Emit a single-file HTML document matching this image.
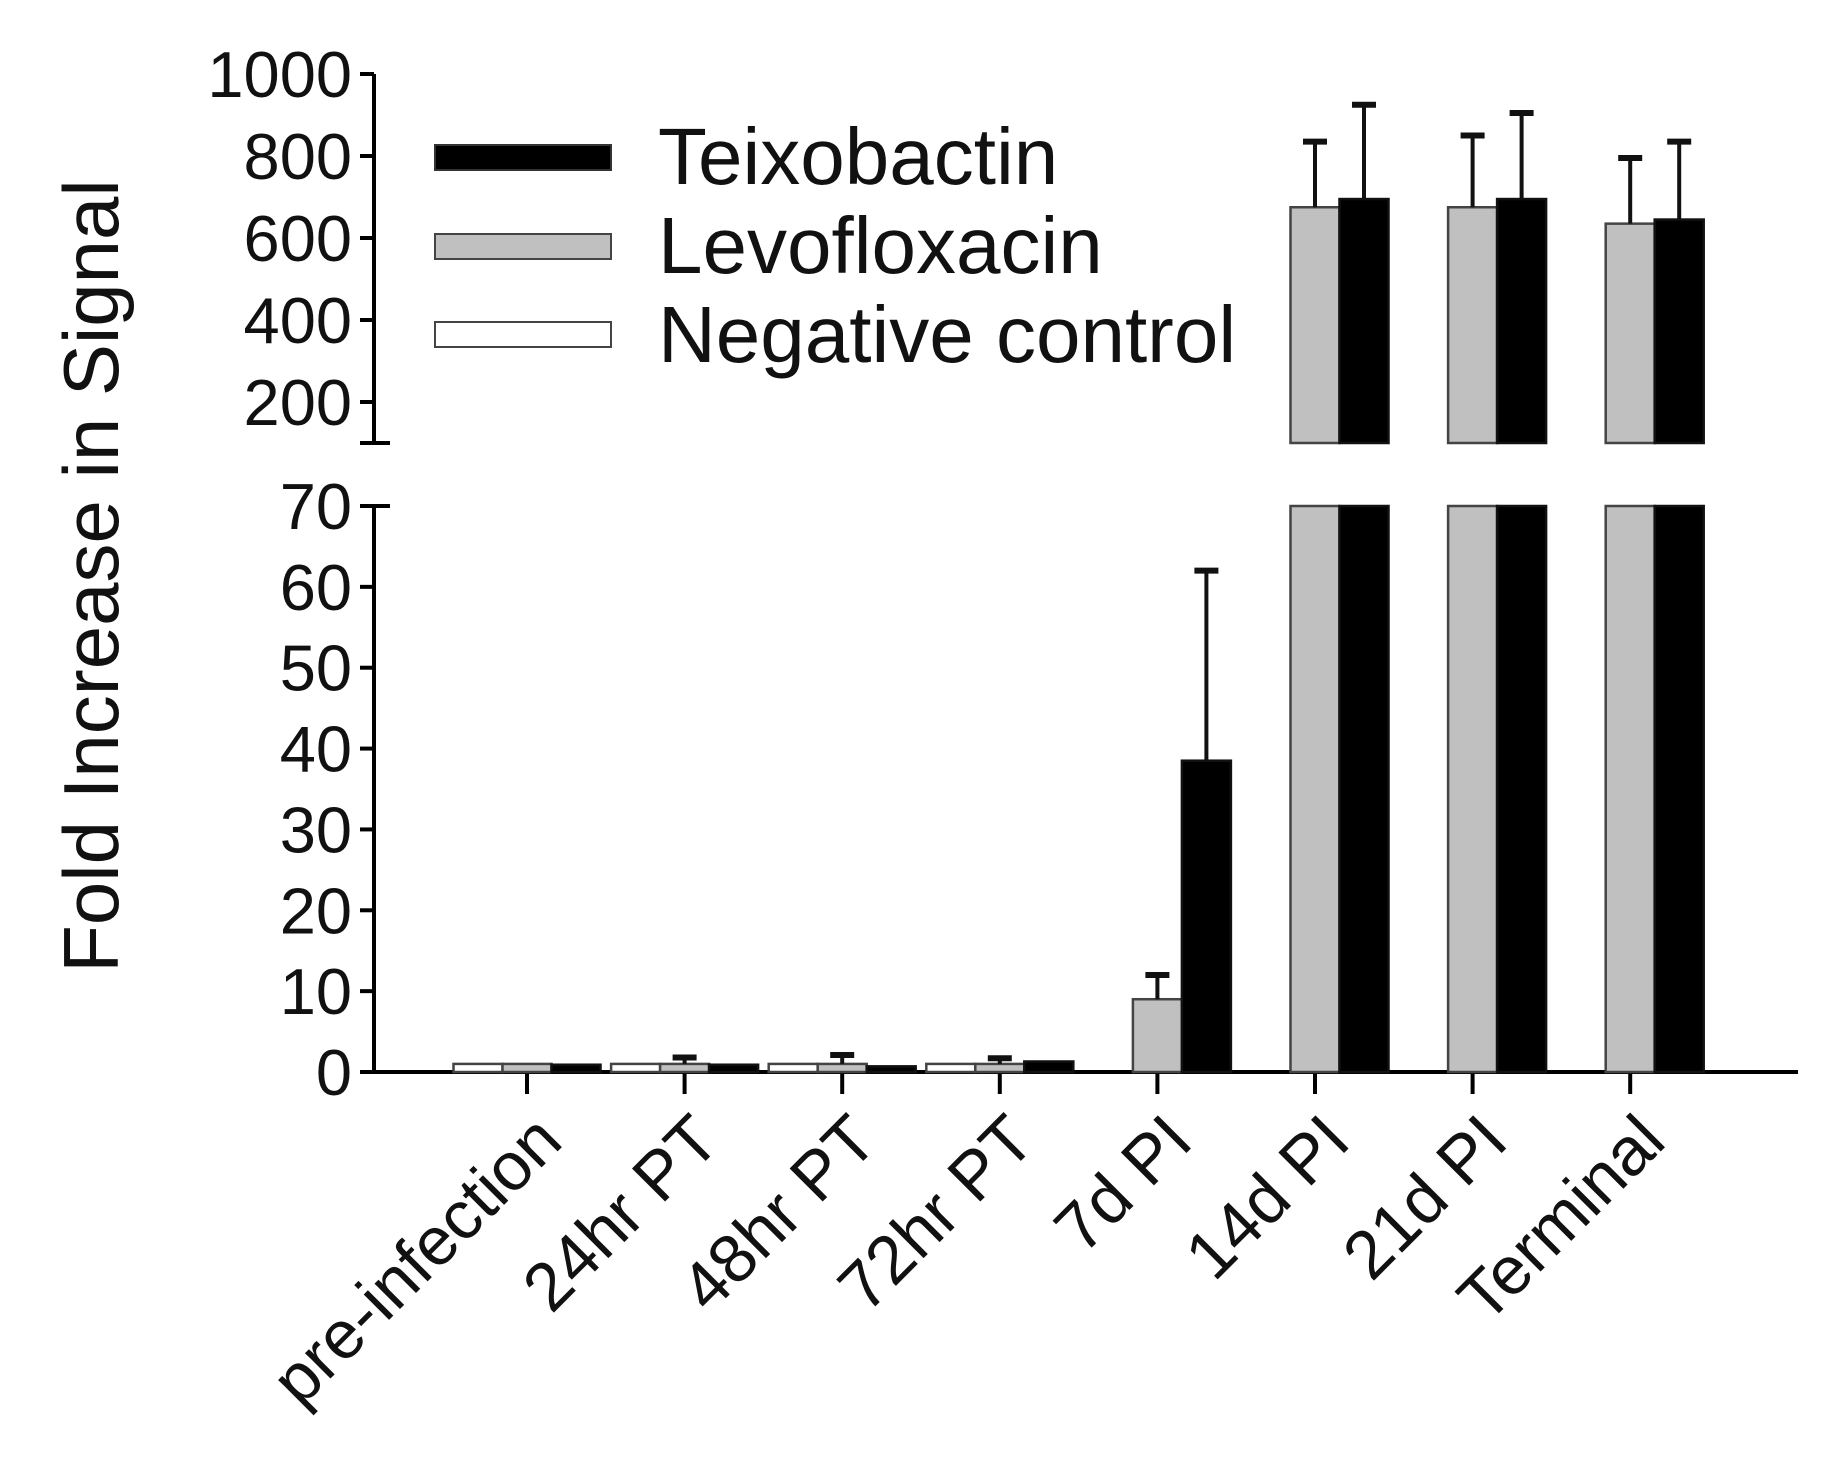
<!DOCTYPE html>
<html><head><meta charset="utf-8">
<style>
html,body{margin:0;padding:0;background:#fff;}
svg{display:block;font-family:"Liberation Sans",Arial,sans-serif;}
</style></head>
<body>
<svg id="chart" width="1833" height="1465" viewBox="0 0 1833 1465" xmlns="http://www.w3.org/2000/svg">
<g id="axes"></g>
<g id="bars"></g>
<g id="labels"></g>
<text transform="translate(118,576) rotate(-90)" text-anchor="middle" font-size="78" fill="#111">Fold Increase in Signal</text>
<g>
  <g>
    <rect x="435" y="145" width="176" height="25" fill="#000" stroke="#333" stroke-width="2"/>
    <text x="658" y="184" font-size="80" fill="#111">Teixobactin</text>
  </g>
  <g>
    <rect x="435" y="234" width="176" height="25" fill="#c0c0c0" stroke="#444" stroke-width="2"/>
    <text x="658" y="273" font-size="80" fill="#111">Levofloxacin</text>
  </g>
  <g>
    <rect x="435" y="322" width="176" height="25" fill="#fff" stroke="#444" stroke-width="2"/>
    <text x="658" y="362" font-size="80" fill="#111">Negative control</text>
  </g>
</g>
</svg>
<script>
const categories = ["pre-infection","24hr PT","48hr PT","72hr PT","7d PI","14d PI","21d PI","Terminal"];
const negValues = [1, 1, 1, 1, 0, 0, 0, 0];
const negErrors = [1, 1, 1, 1, 0, 0, 0, 0];
const levoValues = [1, 1, 1, 1, 9, 675, 675, 635];
const levoErrors = [1, 1.8, 2.1, 1.7, 12, 835, 850, 795];
const teixoValues = [0.9, 0.9, 0.7, 1.3, 38.5, 695, 695, 645];
const teixoErrors = [0.9, 0.9, 0.7, 1.3, 62, 925, 905, 835];
const lowerTicks = [0,10,20,30,40,50,60,70];
const upperTicks = [200,400,600,800,1000];

const NS="http://www.w3.org/2000/svg";
function mk(tag, attrs, parent){const e=document.createElementNS(NS,tag);for(const k in attrs)e.setAttribute(k,attrs[k]);parent.appendChild(e);return e;}
const axX=374, axRight=1798;
const lowBase=1072, lowTop=506, lowMax=70;
const upTopY=74, upBotY=443, upMin=100, upMax=1000;
function yLow(v){return lowBase-(Math.min(v,lowMax)/lowMax)*(lowBase-lowTop);}
function yUp(v){return upBotY-((Math.max(v,upMin)-upMin)/(upMax-upMin))*(upBotY-upTopY);}
const x0=527, step=157.6, bw=49;
function xc(i){return x0+i*step;}

const axes=document.getElementById('axes');
let a=mk('line',{x1:axX,y1:lowTop,x2:axX,y2:lowBase+2,stroke:'#000','stroke-width':4},axes);


a=mk('line',{x1:axX,y1:upTopY,x2:axX,y2:upBotY,stroke:'#000','stroke-width':4},axes);


a=mk('line',{x1:axX-14,y1:lowBase,x2:axRight,y2:lowBase,stroke:'#000','stroke-width':4},axes);


mk('line',{x1:axX-14,y1:upBotY,x2:axX+16,y2:upBotY,stroke:'#000','stroke-width':4},axes);
lowerTicks.forEach(v=>{
  const y=yLow(v);
  mk('line',{x1:axX-14,y1:y,x2:v===70?axX+16:axX,y2:y,stroke:'#000','stroke-width':4},axes);
  const t=mk('text',{x:axX-22,y:y+23,'text-anchor':'end','font-size':65,fill:'#111'},axes);
  t.textContent=v;
  
  
});
upperTicks.forEach(v=>{
  const y=yUp(v);
  mk('line',{x1:axX-14,y1:y,x2:axX,y2:y,stroke:'#000','stroke-width':4},axes);
  const t=mk('text',{x:axX-22,y:y+23,'text-anchor':'end','font-size':65,fill:'#111'},axes);
  t.textContent=v;
  
  
});

const bars=document.getElementById('bars');
const series=[
  {vals:negValues,errs:negErrors,fill:'#fff',off:-1,name:'negative-control'},
  {vals:levoValues,errs:levoErrors,fill:'#c0c0c0',off:0,name:'levofloxacin'},
  {vals:teixoValues,errs:teixoErrors,fill:'#000',off:1,name:'teixobactin'}
];
function errBar(cx,y1,y2){
  if(y2>=y1-1)return;
  mk('line',{x1:cx,y1:y1,x2:cx,y2:y2,stroke:'#111','stroke-width':4},bars);
  mk('line',{x1:cx-12,y1:y2,x2:cx+12,y2:y2,stroke:'#111','stroke-width':6},bars);
}
categories.forEach((c,i)=>{
  mk('line',{x1:xc(i),y1:lowBase,x2:xc(i),y2:lowBase+22,stroke:'#000','stroke-width':4},axes);
  series.forEach(s=>{
    const v=s.vals[i]; if(v<=0)return;
    const bx=xc(i)+s.off*bw-bw/2;
    const stroke=s.fill==='#000'?'#111':'#444';
    const yt=yLow(v);
    let r=mk('rect',{x:bx,y:yt,width:bw,height:lowBase-yt,fill:s.fill,stroke:stroke,'stroke-width':2.5},bars);
    
    
    if(v>lowMax){
      const yu=yUp(v);
      r=mk('rect',{x:bx,y:yu,width:bw,height:upBotY-yu,fill:s.fill,stroke:stroke,'stroke-width':2.5},bars);
      
      
      errBar(bx+bw/2,yu,yUp(s.errs[i]));
    } else {
      errBar(bx+bw/2,yt,yLow(s.errs[i]));
    }
  });
  const t=mk('text',{x:0,y:0,'text-anchor':'end','font-size':68,fill:'#111',transform:'translate('+(xc(i)+38)+','+(lowBase+72)+') rotate(-45)'},document.getElementById('labels'));
  t.textContent=c;
  
  
});
</script>
</body></html>
